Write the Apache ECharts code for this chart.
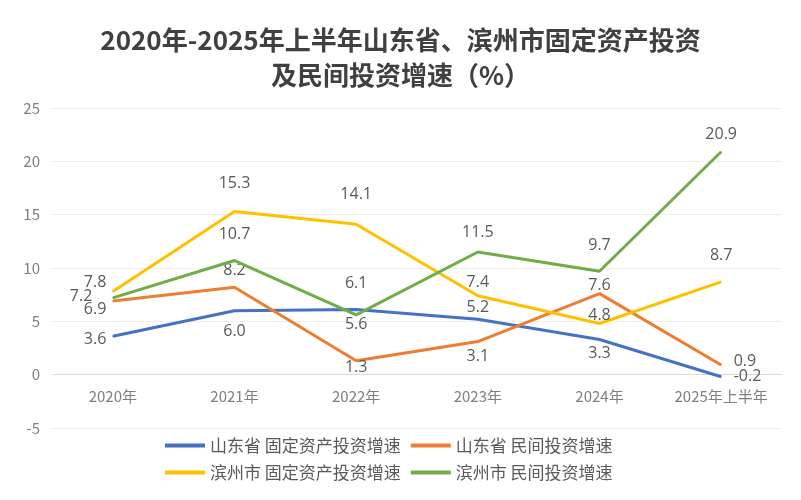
<!DOCTYPE html>
<html>
<head>
<meta charset="utf-8">
<script src="https://cdn.jsdelivr.net/npm/echarts@6/dist/echarts.min.js"></script>
<style>html,body{margin:0;padding:0;background:#fff;}#c{width:801px;height:500px;}</style>
</head>
<body>
<div id="c"></div>
<script>
var categories = ['2020年', '2021年', '2022年', '2023年', '2024年', '2025年上半年'];
var seriesNames = ['山东省 固定资产投资增速', '山东省 民间投资增速', '滨州市 固定资产投资增速', '滨州市 民间投资增速'];
var sdFixed = [3.6, 6.0, 6.1, 5.2, 3.3, -0.2];
var sdPrivate = [6.9, 8.2, 1.3, 3.1, 7.6, 0.9];
var bzFixed = [7.8, 15.3, 14.1, 7.4, 4.8, 8.7];
var bzPrivate = [7.2, 10.7, 5.6, 11.5, 9.7, 20.9];
var yTicks = {min: -5, max: 25, interval: 5};

// label placement styling (kept apart from data): [position, distance, offsetY]
var labelStyle = [
  [['left',6,3],['bottom',12,0],['top',18,0],['top',3,0],['bottom',5,0],['right',12,0]],
  [['left',6,8],['top',8,0],['bottom',-2,0],['bottom',6,0],['top',0,0],['right',12,-4]],
  [['left',6,-9],['top',20,0],['top',21,0],['top',5,0],['top',0,0],['top',18,0]],
  [['left',20,-1],['top',18,0],['bottom',1,0],['top',11,0],['top',17,0],['top',9,0]]
];
var colors = ['#4472C4', '#ED7D31', '#FFC000', '#70AD47'];
var allData = [sdFixed, sdPrivate, bzFixed, bzPrivate];

function build(idx) {
  return allData[idx].map(function (v, i) {
    var s = labelStyle[idx][i];
    return {value: v, label: {position: s[0], distance: s[1], offset: [0, s[2]]}};
  });
}

var gridTop = 108, gridBottom = 72, chartH = 500;
var plotH = chartH - gridTop - gridBottom;
// shift the category axis up so it sits on the zero line
var zeroShift = plotH * (0 - yTicks.min) / (yTicks.max - yTicks.min);

var chart = echarts.init(document.getElementById('c'), null, {renderer: 'canvas'});
chart.setOption({
  backgroundColor: '#ffffff',
  animation: false,
  title: {
    text: '2020年-2025年上半年山东省、滨州市固定资产投资\n及民间投资增速（%）',
    left: 'center',
    top: 18,
    textStyle: {fontSize: 26, fontWeight: 'bold', color: '#404040', lineHeight: 35, fontFamily: 'Noto Sans CJK SC'}
  },
  legend: {
    data: seriesNames,
    left: 160,
    top: 432,
    width: 480,
    itemWidth: 40,
    itemHeight: 4,
    itemGap: 10,
    icon: 'rect',
    textStyle: {fontSize: 17, color: '#595959', fontFamily: 'Noto Sans CJK SC'}
  },
  grid: {left: 52, right: 19, top: gridTop, bottom: gridBottom},
  xAxis: {
    type: 'category',
    data: categories,
    boundaryGap: true,
    offset: -zeroShift,
    axisLine: {show: true, onZero: false, lineStyle: {color: '#d9d9d9', width: 1}},
    axisTick: {show: false},
    axisLabel: {fontSize: 15, color: '#7f7f7f', margin: 14, fontFamily: 'Noto Sans CJK SC'}
  },
  yAxis: {
    type: 'value',
    min: yTicks.min,
    max: yTicks.max,
    interval: yTicks.interval,
    axisLine: {show: false},
    axisTick: {show: false},
    splitLine: {lineStyle: {color: '#eeeeee', width: 1}},
    axisLabel: {fontSize: 15, color: '#7f7f7f', margin: 12, fontFamily: 'Noto Sans CJK SC'}
  },
  series: seriesNames.map(function (name, idx) {
    return {
      name: name,
      type: 'line',
      data: build(idx),
      showSymbol: true,
      symbol: 'circle',
      symbolSize: 1,
      lineStyle: {width: 3, color: colors[idx]},
      itemStyle: {color: colors[idx]},
      label: {
        show: true,
        fontSize: 16,
        color: '#595959',
        fontFamily: 'Open Sans',
        formatter: function (p) { return p.value.toFixed(1); }
      },
      z: 2 + idx
    };
  })
});
</script>
</body>
</html>
